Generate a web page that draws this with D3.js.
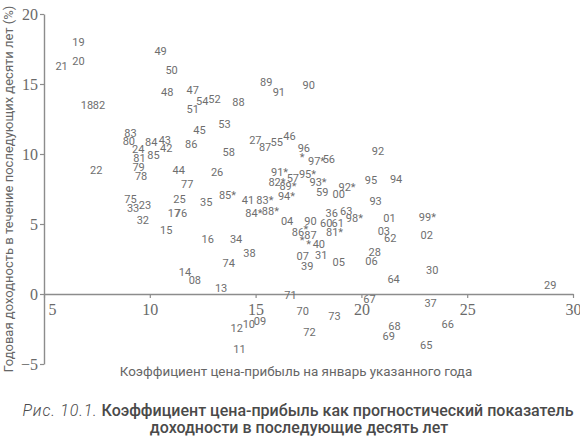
<!DOCTYPE html>
<html><head><meta charset="utf-8">
<script src="https://cdn.jsdelivr.net/npm/d3@7"></script>
<style>body{margin:0;background:#fff}</style>
</head><body><svg id="c" width="580" height="436"></svg>
<script>
// Year labels (two-digit), P/E ratio in January, following 10-year annual return (%)
const years = ["19","20","21","18","82","49","50","48","47","54","52","51","88","89","91","90",
"83","80","24","84","43","42","85","81","79","78","22","44","86","45","53","58","26","77",
"75","33","23","32","15","25","17","76","35","85*","27","87","55","46","96","*","97*","56",
"92","91*","82*","57","95*","89*","93*","59","92*","00","95","94","93","41","83*","94*",
"84*","88*","04","90","36","63","98*","60","61","81*","86","*","87","*","*","40","01","99*",
"03","62","02","28","06","64","30","29","07","39","31","05","16","34","38","74","14","08",
"13","71","67","37","70","73","72","12","10","09","11","68","69","66","65"];
const peRatio = [6.63,6.63,5.83,7.03,7.60,10.51,11.03,10.82,12.03,12.48,13.06,12.03,14.19,15.50,16.10,17.51,
9.09,9.01,9.45,10.07,10.71,10.78,10.17,9.51,9.47,9.59,7.47,11.37,11.96,12.35,13.53,13.73,13.18,11.77,
9.09,9.21,9.77,9.67,10.78,11.40,11.14,11.47,12.67,13.67,14.99,15.45,16.00,16.60,17.28,17.20,17.88,18.46,
20.78,16.13,16.01,16.76,17.45,16.53,17.95,18.15,19.32,18.93,20.45,21.64,20.67,14.64,15.44,16.46,
14.92,15.70,16.49,17.59,18.60,19.28,19.67,18.34,18.88,18.73,17.00,17.38,17.59,17.20,17.51,17.99,21.33,23.12,
21.06,21.36,23.09,20.63,20.48,21.52,23.35,28.92,17.23,17.44,18.10,18.93,12.74,14.08,14.71,13.73,11.66,12.13,
13.37,16.65,20.38,23.27,17.23,18.73,17.55,14.11,14.68,15.21,14.24,21.56,21.29,24.08,23.06];
const tenYearReturn = [17.99,16.61,16.27,13.46,13.46,17.30,15.96,14.39,14.56,13.77,13.89,13.18,13.66,15.09,14.41,14.91,
11.44,10.87,10.32,10.84,10.99,10.39,9.89,9.66,9.06,8.41,8.84,8.84,10.66,11.66,12.14,10.09,8.71,7.82,
6.75,6.13,6.30,5.25,4.56,6.75,5.75,5.75,6.56,7.07,10.96,10.44,10.84,11.23,10.37,9.77,9.46,9.61,
10.16,8.70,7.96,8.23,8.54,7.68,7.94,7.27,7.63,7.11,8.13,8.18,6.63,6.70,6.70,6.94,
5.75,5.91,5.16,5.16,5.75,5.91,5.37,5.04,5.04,4.41,4.39,4.61,4.18,3.82,3.54,3.54,5.37,5.49,
4.49,3.94,4.18,2.94,2.32,1.04,1.70,0.61,2.66,1.94,2.75,2.23,3.89,3.86,2.86,2.18,1.56,0.96,
0.37,-0.11,-0.39,-0.68,-1.23,-1.61,-2.77,-2.49,-2.21,-1.93,-3.96,-2.30,-3.01,-2.18,-3.66];
const xTicks = [5,10,15,20,25,30];
const yTicks = [-5,0,5,10,15,20];
const xTitle = "Коэффициент цена-прибыль на январь указанного года";
const yTitle = "Годовая доходность в течение последующих десяти лет (%)";
const captionPrefix = "Рис. 10.1.";
const captionLine1 = " Коэффициент цена-прибыль как прогностический показатель";
const captionLine2 = "доходности в последующие десять лет";

const svg = d3.select("#c");
const x = d3.scaleLinear().domain([5,30]).range([44,573]);
const y = d3.scaleLinear().domain([-5,20]).range([364,14]);
const axisColor = "#8c8c8c", tickTextColor = "#6a6a6a";

// y axis
const gy = svg.append("g").attr("transform", `translate(${x(5)},0)`)
  .call(d3.axisLeft(y).tickValues(yTicks).tickSize(4).tickSizeOuter(0).tickPadding(2));
// x axis at y=0
const gx = svg.append("g").attr("transform", `translate(0,${y(0)})`)
  .call(d3.axisBottom(x).tickValues(xTicks).tickSize(4).tickSizeOuter(0).tickPadding(6));
[gx, gy].forEach(g => {
  g.select(".domain").attr("stroke", axisColor).attr("stroke-width", 1.4);
  g.selectAll(".tick line").attr("stroke", axisColor).attr("stroke-width", 1.2);
  g.selectAll(".tick text").attr("fill", tickTextColor)
    .style("font-family", "'Liberation Serif', serif").style("font-size", "16px");
});
gx.selectAll(".tick text").filter(d => d === 5).attr("dx", 8);

// point labels
svg.append("g").selectAll("text").data(years).join("text")
  .attr("x", (d,i) => x(peRatio[i]))
  .attr("y", (d,i) => y(tenYearReturn[i]))
  .attr("text-anchor", "middle")
  .attr("dominant-baseline", "central")
  .style("font-family", "Roboto, sans-serif")
  .style("font-size", "11px")
  .attr("fill", "#6e6e6e")
  .text(d => d);

// axis titles
svg.append("text").attr("x", 296).attr("y", 376).attr("text-anchor", "middle")
  .style("font-family", "Roboto, sans-serif").style("font-size", "13.4px").attr("fill", "#666")
  .text(xTitle);
svg.append("text").attr("transform", "translate(13,189) rotate(-90)").attr("text-anchor", "middle")
  .style("font-family", "Roboto, sans-serif").style("font-size", "13px").attr("fill", "#666")
  .text(yTitle);

// caption
const cap = svg.append("text").attr("x", 298).attr("y", 416).attr("text-anchor", "middle")
  .style("font-family", "Roboto, sans-serif").style("font-size", "16px").attr("fill", "#4a4a4a");
cap.append("tspan").style("font-style", "italic").style("font-weight", "300")
  .style("letter-spacing", "0.8px").text(captionPrefix);
cap.append("tspan").style("font-weight", "500").text(captionLine1);
svg.append("text").attr("x", 299).attr("y", 433).attr("text-anchor", "middle")
  .style("font-family", "Roboto, sans-serif").style("font-size", "16px").style("font-weight", "500")
  .attr("fill", "#4a4a4a")
  .text(captionLine2);
</script>
</body></html>
